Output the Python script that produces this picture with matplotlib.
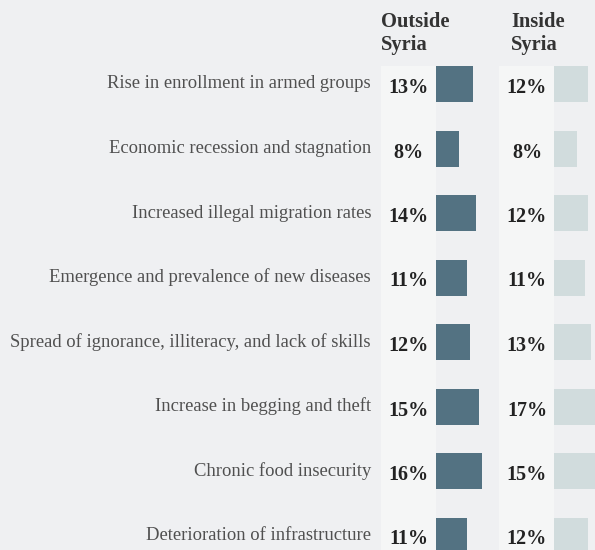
import matplotlib.pyplot as plt
from matplotlib.patches import Rectangle

## data ##

labels = [
    "Rise in enrollment in armed groups",
    "Economic recession and stagnation",
    "Increased illegal migration rates",
    "Emergence and prevalence of new diseases",
    "Spread of ignorance, illiteracy, and lack of skills",
    "Increase in begging and theft",
    "Chronic food insecurity",
    "Deterioration of infrastructure",
]
outside = [13, 8, 14, 11, 12, 15, 16, 11]
inside = [12, 8, 12, 11, 13, 17, 15, 12]

## layout (pixels) ##

W, H = 595, 550
bg = "#eff0f2"
panel = "#f5f6f6"
dark_bar = "#537282"
light_bar = "#d1dcdd"
px_per_pct = 2.85
row_top = 84          # centre of first row
row_step = 64.5
bar_h = 36
rows = [row_top + i * row_step for i in range(len(labels))]
serif = "Liberation Serif"

fig = plt.figure(figsize=(W / 100, H / 100), dpi=100, facecolor=bg)

ax = fig.add_axes([0, 0, 1, 1])
ax.set_xlim(0, W)
ax.set_ylim(H, 0)
ax.axis("off")

# lighter strips behind the percentage columns
for x0, x1 in [(381, 436), (499, 554)]:
    ax.add_patch(Rectangle((x0, 66), x1 - x0, H - 66, color=panel, lw=0, zorder=0))

# column headers
ax.text(381, 12, "Outside\nSyria", family=serif, weight="bold", fontsize=14.8,
        color="#333333", va="top", ha="left", linespacing=1.2)
ax.text(511, 12, "Inside\nSyria", family=serif, weight="bold", fontsize=14.8,
        color="#333333", va="top", ha="left", linespacing=1.2)

for y, lab, o, i in zip(rows, labels, outside, inside):
    ax.text(371, y, lab, family=serif, fontsize=13.4,
            color="#505050", ha="right", va="center")
    ax.text(408.5, y + 4, f"{o}%", family=serif, weight="bold", fontsize=14.5,
            color="#222222", ha="center", va="center")
    ax.text(527, y + 4, f"{i}%", family=serif, weight="bold", fontsize=14.5,
            color="#222222", ha="center", va="center")


def bar_axes(left_px, values, color):
    a = fig.add_axes([left_px / W, 0, (W - left_px) / W, 1])
    a.set_xlim(0, (W - left_px) / px_per_pct)
    a.set_ylim(H, 0)
    a.axis("off")
    a.patch.set_alpha(0)
    a.barh(rows, values, height=bar_h, left=0, color=color, lw=0)
    return a


bar_axes(436, outside, dark_bar)
bar_axes(554, inside, light_bar)

fig.savefig("out.png", dpi=100, facecolor=bg)
